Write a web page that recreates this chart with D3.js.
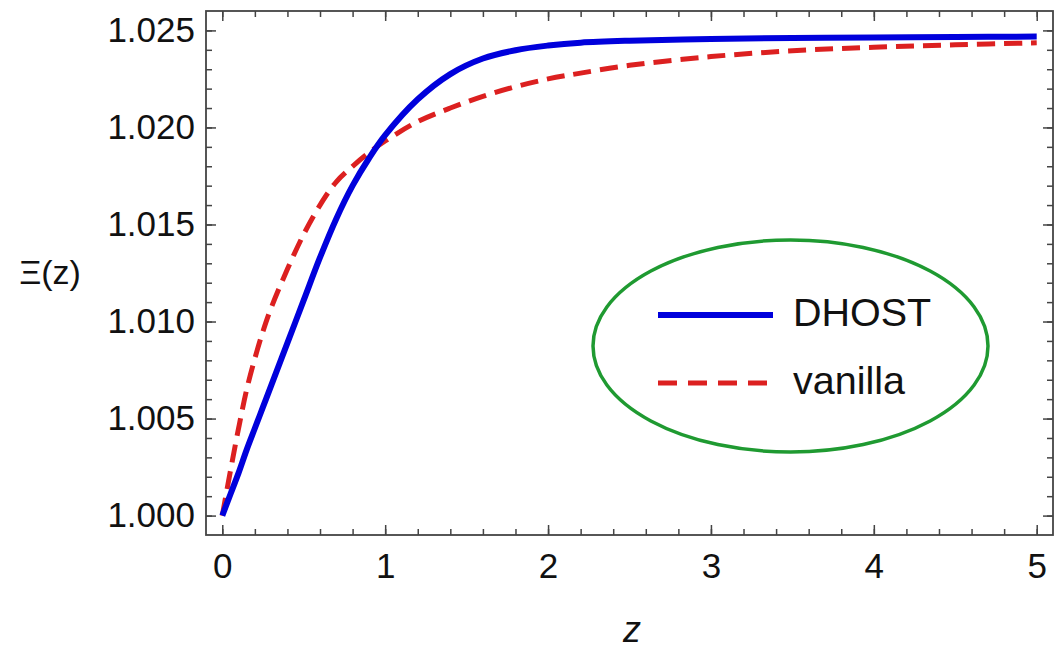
<!DOCTYPE html>
<html>
<head>
<meta charset="utf-8">
<script src="https://cdn.jsdelivr.net/npm/d3@7"></script>
<style>
  body { margin: 0; background: #fff; }
  svg { display: block; font-family: "Liberation Sans", Arial, sans-serif; }
</style>
</head>
<body>
<div id="chart"></div>
<script>
// values
const zValues = [0, 0.05, 0.1, 0.15, 0.2, 0.25, 0.3, 0.4, 0.5, 0.6, 0.7, 0.8, 0.9, 1.0, 1.2, 1.4, 1.6, 1.8, 2.0, 2.2, 2.5, 3.0, 3.5, 4.0, 4.5, 5.0];
const dhostValues = [1.0000, 1.0011, 1.0022, 1.0034, 1.0045, 1.0056, 1.0067, 1.0089, 1.0111, 1.0133, 1.0153, 1.0170, 1.0184, 1.0196, 1.02145, 1.02275, 1.02355, 1.02398, 1.02422, 1.02437, 1.02447, 1.02456, 1.02461, 1.02464, 1.02466, 1.02468];
const vanillaValues = [1.0000, 1.0023, 1.0045, 1.0065, 1.0081, 1.0095, 1.0107, 1.0127, 1.0145, 1.0160, 1.0172, 1.0180, 1.0187, 1.0193, 1.0203, 1.0210, 1.0216, 1.0221, 1.0225, 1.0228, 1.0232, 1.02365, 1.02395, 1.02413, 1.02426, 1.02436];

const xTicks = [0, 1, 2, 3, 4, 5];
const xMinorTicks = d3.range(0, 5.01, 0.2);
const yTicks = [1.000, 1.005, 1.010, 1.015, 1.020, 1.025];
const yMinorTicks = d3.range(1.000, 1.0255, 0.001);

const seriesNames = ["DHOST", "vanilla"];

const size = { x: 1060, y: 650 };
const frame = { left: 206, right: 1053, top: 11, bottom: 535 };

const xScale = d3.scaleLinear().domain([-0.1, 5.1]).range([frame.left, frame.right]);
const yScale = d3.scaleLinear().domain([0.999, 1.026]).range([frame.bottom, frame.top]);

const svg = d3.select("#chart")
  .append("svg")
  .attr("width", size.x)
  .attr("height", size.y);

const frameColor = "#444";

// ticks on all four sides, pointing inward
const addAxis = (axis, transform, labels) => {
  const g = svg.append("g")
    .attr("transform", transform)
    .call(axis)
    .attr("font-size", 35)
    .attr("font-family", "Liberation Sans, Arial, sans-serif");
  g.select(".domain").remove();
  g.selectAll(".tick line").attr("stroke", frameColor).attr("stroke-width", 1.5);
  g.selectAll(".tick text").attr("fill", "#111");
  if (!labels) g.selectAll(".tick text").remove();
  return g;
};

addAxis(d3.axisBottom(xScale).tickValues(xMinorTicks).tickSize(-6).tickFormat(""), `translate(0,${frame.bottom})`, false);
addAxis(d3.axisBottom(xScale).tickValues(xTicks).tickSize(-10).tickPadding(18).tickFormat(d3.format("d")), `translate(0,${frame.bottom})`, true);
addAxis(d3.axisTop(xScale).tickValues(xMinorTicks).tickSize(-6).tickFormat(""), `translate(0,${frame.top})`, false);
addAxis(d3.axisTop(xScale).tickValues(xTicks).tickSize(-10).tickFormat(""), `translate(0,${frame.top})`, false);

addAxis(d3.axisLeft(yScale).tickValues(yMinorTicks).tickSize(-6).tickFormat(""), `translate(${frame.left},0)`, false);
addAxis(d3.axisLeft(yScale).tickValues(yTicks).tickSize(-10).tickPadding(11).tickFormat(d3.format(".3f")), `translate(${frame.left},0)`, true);
addAxis(d3.axisRight(yScale).tickValues(yMinorTicks).tickSize(-6).tickFormat(""), `translate(${frame.right},0)`, false);
addAxis(d3.axisRight(yScale).tickValues(yTicks).tickSize(-10).tickFormat(""), `translate(${frame.right},0)`, false);

svg.append("rect")
  .attr("x", frame.left)
  .attr("y", frame.top)
  .attr("width", frame.right - frame.left)
  .attr("height", frame.bottom - frame.top)
  .attr("fill", "none")
  .attr("stroke", frameColor)
  .attr("stroke-width", 1.8);

// curves
const line = d3.line()
  .x(d => xScale(d[0]))
  .y(d => yScale(d[1]))
  .curve(d3.curveCatmullRom.alpha(0.5));

svg.append("path")
  .datum(zValues.map((z, i) => [z, vanillaValues[i]]))
  .attr("d", line)
  .attr("fill", "none")
  .attr("stroke", "#dc2020")
  .attr("stroke-width", 5)
  .attr("stroke-dasharray", "18,9");

svg.append("path")
  .datum(zValues.map((z, i) => [z, dhostValues[i]]))
  .attr("d", line)
  .attr("fill", "none")
  .attr("stroke", "#0000dc")
  .attr("stroke-width", 6);

// axis labels
svg.append("text")
  .text("Ξ(z)")
  .attr("x", 50)
  .attr("y", 284)
  .attr("text-anchor", "middle")
  .attr("font-size", 34)
  .attr("fill", "#111");

svg.append("text")
  .text("z")
  .attr("x", 632)
  .attr("y", 642)
  .attr("text-anchor", "middle")
  .attr("font-size", 36)
  .attr("font-style", "italic")
  .attr("fill", "#111");

// legend inside a green ellipse
svg.append("ellipse")
  .attr("cx", 790.5)
  .attr("cy", 346)
  .attr("rx", 197.5)
  .attr("ry", 106)
  .attr("fill", "none")
  .attr("stroke", "#1f9a31")
  .attr("stroke-width", 3.5);

const legend = svg.append("g")
  .selectAll("g")
  .data(seriesNames)
  .enter()
  .append("g")
  .attr("transform", (d, i) => `translate(0,${315 + i * 68})`);

legend.append("line")
  .attr("x1", 658)
  .attr("x2", (d, i) => i === 0 ? 773 : 767)
  .attr("y1", 0)
  .attr("y2", 0)
  .attr("stroke", (d, i) => i === 0 ? "#0000dc" : "#dc2020")
  .attr("stroke-width", (d, i) => i === 0 ? 6 : 5)
  .attr("stroke-dasharray", (d, i) => i === 0 ? null : "19,11");

legend.append("text")
  .text(d => d)
  .attr("x", 793)
  .attr("y", 11)
  .attr("font-size", 39.5)
  .attr("fill", "#111");
</script>
</body>
</html>
